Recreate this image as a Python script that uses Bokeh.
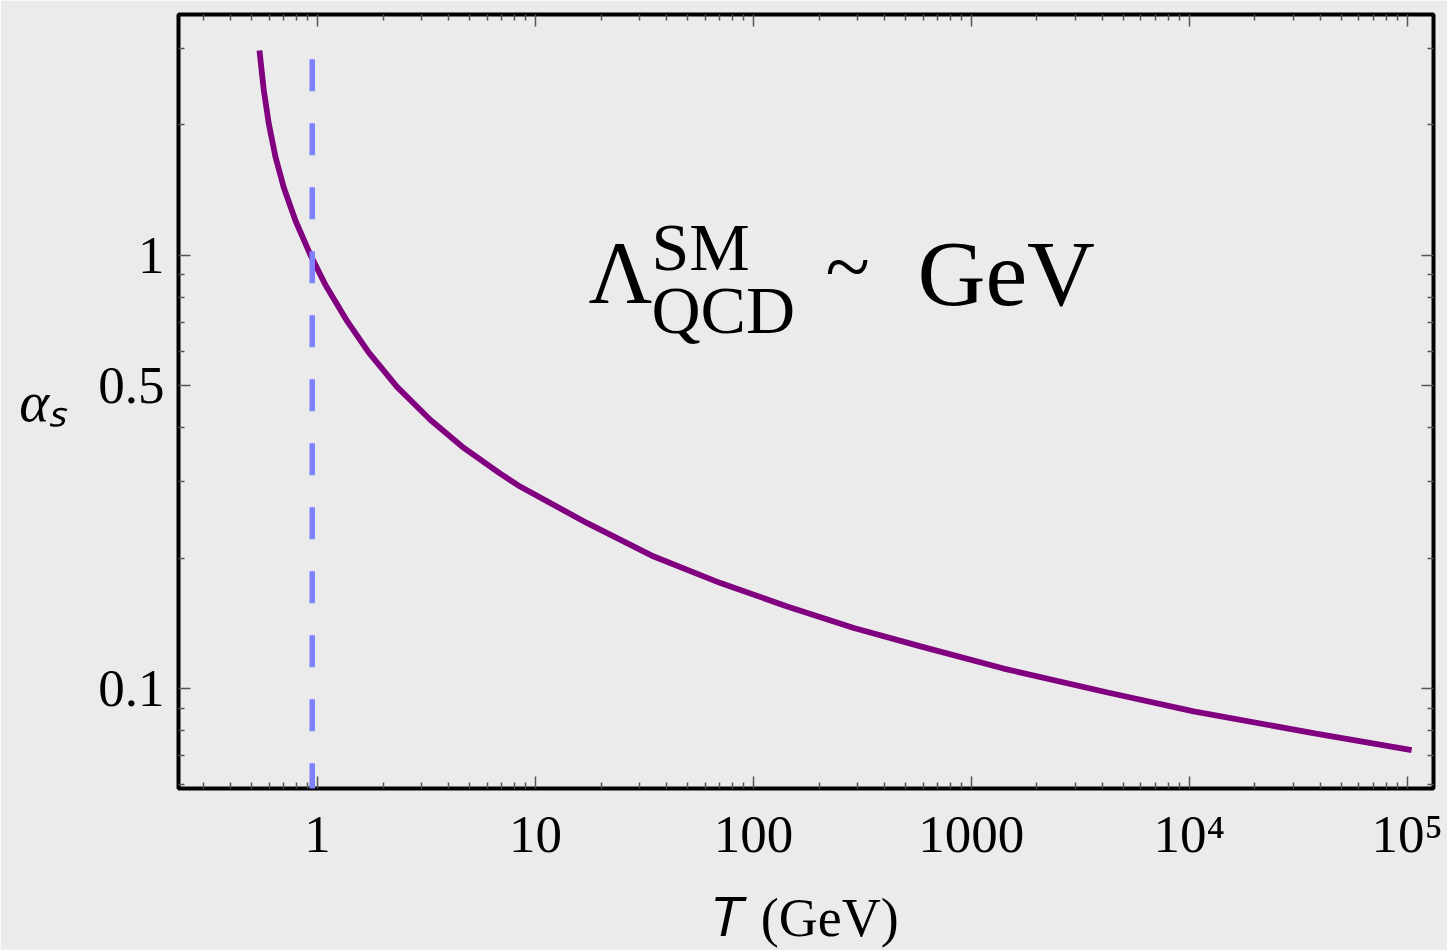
import numpy as np
from bokeh.plotting import figure
from bokeh.models import LogAxis, FixedTicker, Label, Range1d
from bokeh.embed import file_html
from bokeh.resources import INLINE

# ---- data ----
T_GeV = [0.541, 0.5665, 0.597, 0.641, 0.700, 0.792, 0.928, 1.087, 1.367,
         1.712, 2.320, 3.298, 4.688, 6.835, 8.536, 17.28, 34.90, 70.63,
         142.9, 288.9, 584.8, 1405, 4219, 10464, 37580, 104760]
alpha_s = [2.966, 2.399, 2.010, 1.684, 1.430, 1.200, 1.000, 0.853, 0.704,
           0.597, 0.496, 0.4165, 0.359, 0.314, 0.292, 0.2407, 0.2016, 0.1751,
           0.1547, 0.1379, 0.1251, 0.1112, 0.0979, 0.0886, 0.0788, 0.0721]
lambda_T = 0.945            # position of the dashed vertical marker
lambda_top = 2.83           # top end of the dashed marker

x_major = [1, 10, 100, 1000, 10000, 100000]
x_major_labels = ["1", "10", "100", "1000", "10\u2074", "10\u2075"]
x_minor = [k * 10.0 ** d for d in range(-1, 6) for k in range(2, 10)]
y_major = [0.1, 0.5, 1]
y_major_labels = ["0.1", "0.5", "1"]
y_minor = [0.06, 0.07, 0.08, 0.09, 0.2, 0.3, 0.4, 0.6, 0.7, 0.8, 0.9, 2, 3]

XMIN, XMAX = 0.23, 1.32e5
YMIN, YMAX = 0.0588, 3.59

W, H = 1447, 950
FL, FR, FT, FB = 178, 1433, 14, 789
BG = "#ebebeb"
SERIF = "Liberation Serif"

p = figure(width=W, height=H, x_axis_type="log", y_axis_type="log",
           x_range=Range1d(XMIN, XMAX), y_range=Range1d(YMIN, YMAX),
           output_backend="svg", toolbar_location=None,
           min_border_left=FL, min_border_right=W - FR,
           min_border_top=FT, min_border_bottom=H - FB)
p.background_fill_color = BG
p.border_fill_color = BG
p.outline_line_color = "black"
p.outline_line_width = 4
p.grid.visible = False

bottom = p.below[0]
left = p.left[0]

xt = FixedTicker(ticks=x_major, minor_ticks=x_minor)
yt = FixedTicker(ticks=y_major, minor_ticks=y_minor)

top = LogAxis(ticker=xt)
right = LogAxis(ticker=yt)
p.add_layout(top, "above")
p.add_layout(right, "right")

bottom.ticker = xt
left.ticker = yt
bottom.major_label_overrides = {float(v): s for v, s in zip(x_major, x_major_labels)}
left.major_label_overrides = {float(v): s for v, s in zip(y_major, y_major_labels)}

for ax in [bottom, left, top, right]:
    ax.axis_line_color = None
    ax.major_tick_in = 12
    ax.major_tick_out = 0
    ax.minor_tick_in = 6
    ax.minor_tick_out = 0
    ax.major_tick_line_color = "#555555"
    ax.minor_tick_line_color = "#555555"
    ax.major_tick_line_width = 1.5
    ax.minor_tick_line_width = 1.5
    ax.major_label_text_font = SERIF
    ax.major_label_text_font_size = "53px"
    ax.major_label_text_color = "black"

for ax in [top, right]:
    ax.major_label_text_color = None
    ax.major_label_text_font_size = "1px"
    ax.major_label_standoff = 0

bottom.major_label_standoff = 16
left.major_label_standoff = 14

# axis titles
bottom.axis_label = "\U0001D447 (GeV)"
bottom.axis_label_text_font = SERIF
bottom.axis_label_text_font_size = "54px"
bottom.axis_label_text_font_style = "normal"
bottom.axis_label_text_color = "black"
bottom.axis_label_standoff = 22

left.axis_label = "\u03b1\u209b"
left.axis_label_orientation = "horizontal"
left.axis_label_text_font = SERIF
left.axis_label_text_font_size = "57px"
left.axis_label_text_font_style = "italic"
left.axis_label_text_color = "black"
left.axis_label_standoff = 28

# curve and dashed marker
p.line(T_GeV, alpha_s, line_color="#800080", line_width=5.8)
p.line([lambda_T, lambda_T], [lambda_top, YMIN * 0.9], line_color="#8080ff",
       line_width=5.5, line_dash="32 32")


def dx(px):
    return 10 ** (np.log10(XMIN) + (px - FL) / (FR - FL) * np.log10(XMAX / XMIN))


def dy(py):
    return 10 ** (np.log10(YMIN) + (FB - py) / (FB - FT) * np.log10(YMAX / YMIN))


def lab(text, px, base, size, style="normal"):
    # the drawn baseline sits ~0.37 em below the anchor; compensate
    py = base - 0.37 * size
    p.add_layout(Label(x=dx(px), y=dy(py), text=text, text_font=SERIF,
                       text_font_size=f"{size}px", text_font_style=style,
                       text_align="left", text_baseline="alphabetic",
                       text_color="black"))


lab("\u039b", 588, 305, 88)
lab("SM", 651, 272, 68)
lab("QCD", 651, 335, 68)
lab("~", 825, 297, 82)
lab("GeV", 917, 308, 94)

open("out.html", "w").write(file_html(p, INLINE))
